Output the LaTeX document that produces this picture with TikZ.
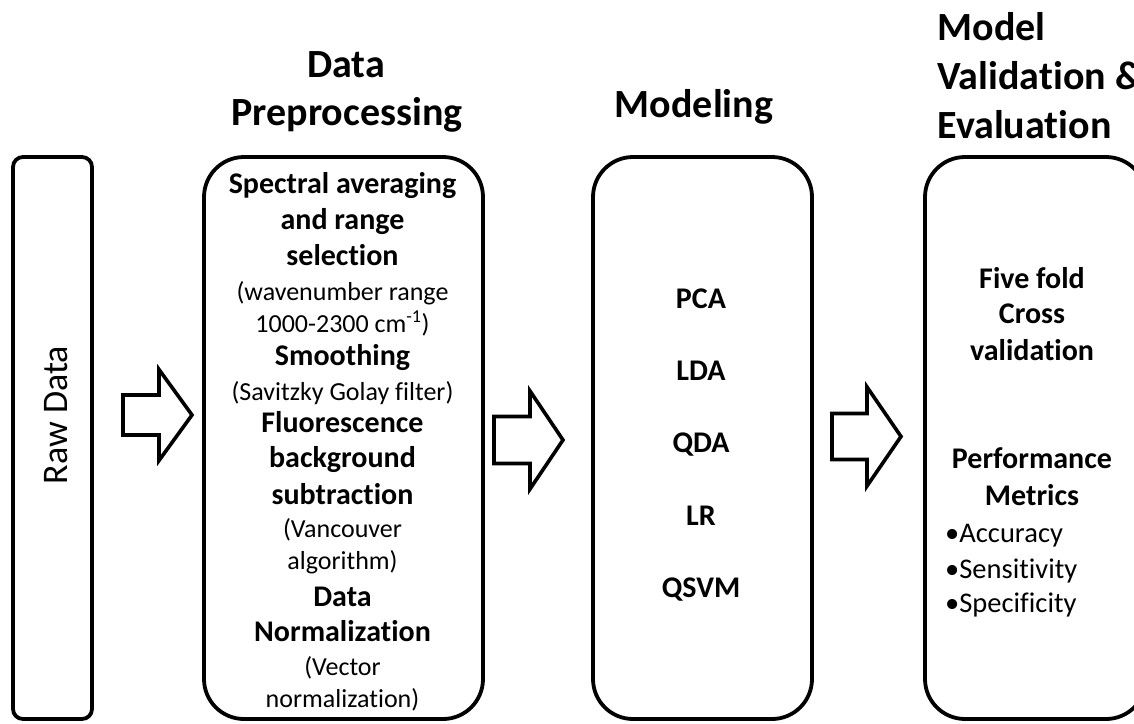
\documentclass[tikz,border=0pt]{standalone}
\usepackage{fontspec}
\setmainfont[Ligatures=NoCommon]{Carlito}
\newcommand\blkarrow[6]{% left, headbase, tip, cy, headhalf, shafthalf
  \draw[blockarrow] (#1,#4-#6) -- (#2,#4-#6) -- (#2,#4-#5) -- (#3,#4)
    -- (#2,#4+#5) -- (#2,#4+#6) -- (#1,#4+#6) -- cycle;}
\begin{document}
\begin{tikzpicture}[x=1pt,y=-1pt,
  box/.style={draw,line width=3.8pt,rounded corners=40pt,inner sep=0pt},
  blockarrow/.style={draw,line width=3.6pt,miter limit=10},
  ttl/.style={font=\fontsize{40}{48}\selectfont\bfseries,anchor=base},
  bt/.style={font=\fontsize{30}{35}\selectfont\bfseries,anchor=base},
  rt/.style={font=\fontsize{26}{35}\selectfont,anchor=base},
  rtb/.style={font=\fontsize{28.5}{35}\selectfont,anchor=base west,inner sep=0pt},
  ]
\useasboundingbox (0,0) rectangle (1134,723);
\clip (0,0) rectangle (1134,723);

% boxes
\node[box,rounded corners=10pt,minimum width=79pt,minimum height=562pt] (raw) at (52.5,438) {};
\node[box,minimum width=279pt,minimum height=562pt] (prep) at (343.5,438) {};
\node[box,minimum width=219pt,minimum height=562pt] (model) at (702.5,438) {};
\node[box,minimum width=221pt,minimum height=562pt] (eval) at (1035.5,438) {};

% raw data label
\node[font=\fontsize{36}{40}\selectfont,rotate=90,anchor=base] (rawtxt) at (67,415) {Raw Data};

% titles
\node[ttl] (t1a) at (346,77) {Data};
\node[ttl] (t1b) at (347,125) {Preprocessing};
\node[ttl] (t2) at (694,117) {Modeling};
\node[ttl,anchor=base west] (t3a) at (934,40) {Model};
\node[ttl,anchor=base west] (t3b) at (934,89) {Validation \&};
\node[ttl,anchor=base west] (t3c) at (934,138) {Evaluation};

% preprocessing text
\foreach \yy/\tt/\ss [count=\i] in {
  193/Spectral averaging/bt, 229/and range/bt, 265/selection/bt,
  300/(wavenumber range/rt, 332/{1000-2300 cm\textsuperscript{-1})}/rt,
  365/Smoothing/bt, 400/(Savitzky Golay filter)/rt, 432/Fluorescence/bt,
  467/background/bt, 504/subtraction/bt, 537/(Vancouver/rt, 569/algorithm)/rt,
  606/Data/bt, 641/Normalization/bt, 675/(Vector/rt, 707/normalization)/rt}
  \node[\ss] (pp\i) at (342.5,\yy) {\tt};

% modeling text
\foreach \yy/\tt [count=\i] in {308/PCA, 380/LDA, 452/QDA, 525/LR, 597/QSVM}
  \node[bt] (mm\i) at (701,\yy) {\tt};

% evaluation text
\foreach \yy/\tt [count=\i] in {288/Five fold, 323/Cross, 360/validation, 468/Performance, 505/Metrics}
  \node[bt] (ee\i) at (1032,\yy) {\tt};
\foreach \yy/\tt [count=\i] in {542/Accuracy, 578/Sensitivity, 612/Specificity}
  \node[rtb] (bb\i) at (945,\yy) {\textbullet\tt};

% block arrows
\blkarrow{123}{159}{192}{415}{45.5}{20}
\blkarrow{494}{530}{563}{440}{49}{23.5}
\blkarrow{832}{867}{901}{436.5}{49.5}{23}
\end{tikzpicture}
\end{document}
